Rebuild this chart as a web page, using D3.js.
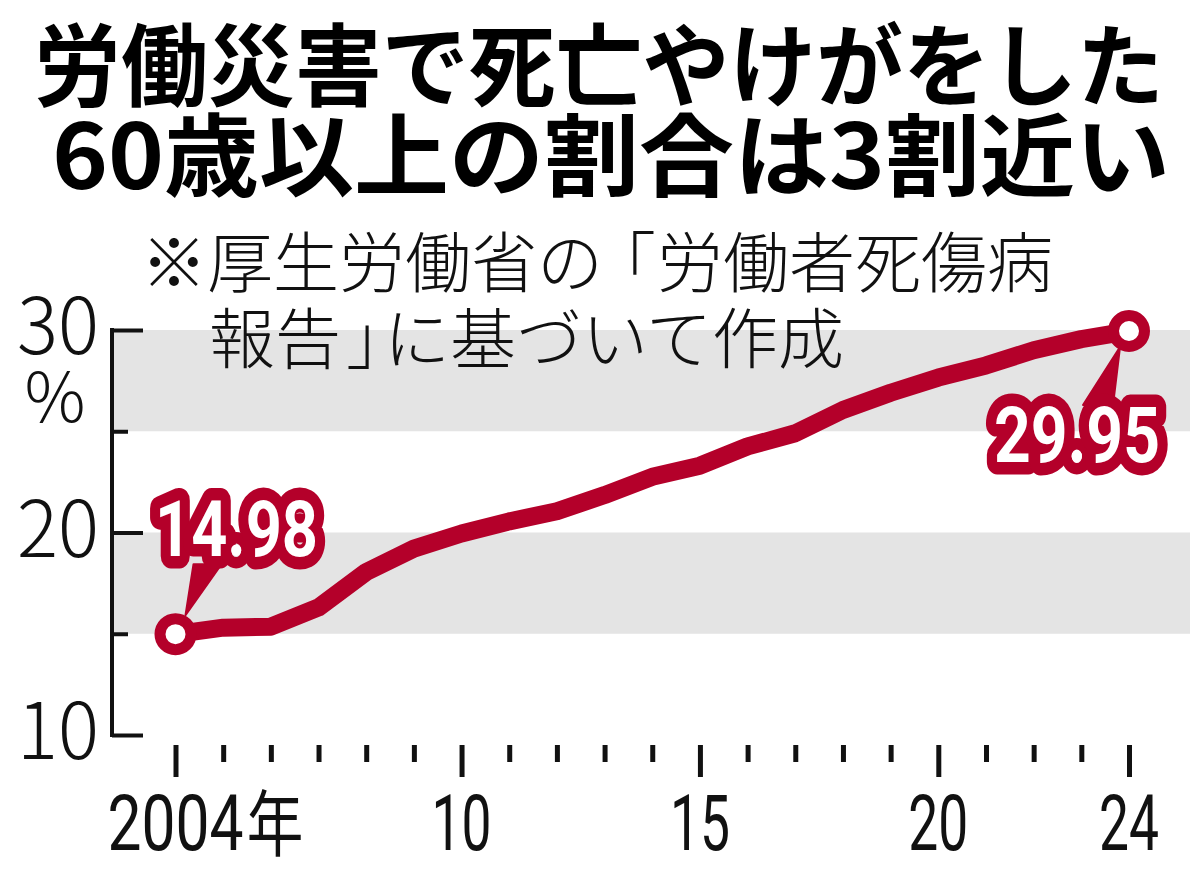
<!DOCTYPE html>
<html lang="ja"><head><meta charset="utf-8">
<script src="https://cdn.jsdelivr.net/npm/d3@7"></script>
<style>body{margin:0;background:#fff}svg{display:block}</style>
</head><body>
<script>
// ---- data ----
const years = [2004,2005,2006,2007,2008,2009,2010,2011,2012,2013,2014,2015,2016,2017,2018,2019,2020,2021,2022,2023,2024];
const shares = [14.98,15.3,15.35,16.3,18.05,19.2,19.95,20.55,21.05,21.85,22.75,23.3,24.25,24.9,26.05,26.9,27.65,28.25,29.0,29.55,29.95];
const yTicks = [10,15,20,25,30];
const yMajorTicks = [10,20,30];
const yTickLabels = ["10","20","30"];
const xMajorYears = [2004,2010,2015,2020,2024];
const xTickLabels = ["2004年","10","15","20","24"];
const bandsFrom = [15,25];
const bandsTo = [20,30];
const titleLines = ["労働災害で死亡やけがをした","60歳以上の割合は3割近い"];
const noteLines = ["※厚生労働省の「労働者死傷病","報告」に基づいて作成"];
const unitLabel = "%";
const calloutYears = [2004,2024];
const calloutTexts = ["14.98","29.95"];

// ---- drawing ----
const W = 1200, H = 874;
const RED = "#b4002a";
const svg = d3.select("body").append("svg").attr("width", W).attr("height", H).attr("lang","ja");
const x = d3.scaleLinear().domain([2004, 2024]).range([175.5, 1129]);
const y = d3.scaleLinear().domain([10, 30]).range([735, 330]);
const jp = "'Noto Sans CJK JP', 'Noto Sans', sans-serif";
const cond = "Roboto, 'Liberation Sans', sans-serif";

// titles
svg.selectAll("text.title").data(titleLines).join("text")
  .attr("class","title")
  .attr("x", (d,i) => i === 0 ? 34 : 52)
  .attr("y", (d,i) => 99 + i*90)
  .attr("textLength", (d,i) => i === 0 ? 1130 : 1118)
  .attr("lengthAdjust","spacingAndGlyphs")
  .style("font-family", jp).style("font-weight", 700).style("font-size","90px")
  .attr("fill","#000").text(d => d);

// bands
svg.selectAll("rect.band").data(bandsFrom).join("rect")
  .attr("class","band")
  .attr("x", 114).attr("width", 1190 - 114)
  .attr("y", (d,i) => y(bandsTo[i]))
  .attr("height", (d,i) => y(d) - y(bandsTo[i]))
  .attr("fill","#e4e4e4");

// note: segments split at brackets; each segment placed by its ink left edge
const noteFontPx = 66;
const ctx = document.createElement("canvas").getContext("2d");
ctx.font = `300 ${noteFontPx}px 'Noto Sans CJK JP', 'Noto Sans', sans-serif`;
const inkLeftOffset = s => ctx.measureText(s).actualBoundingBoxLeft || 0;
const noteInkStarts = [[150, 633, 660], [212, 348, 393]];
svg.selectAll("text.note").data(noteLines).join("text")
  .attr("class","note")
  .attr("y", (d,i) => 287 + i*76)
  .style("font-family", jp).style("font-weight", 300).style("font-size", noteFontPx + "px")
  .attr("fill","#111")
  .each(function(d, i){
    const t = d3.select(this);
    const parts = d.split(/([「」])/).filter(s => s.length);
    parts.forEach((p, k) => {
      const inkX = noteInkStarts[i][k];
      t.append("tspan").attr("x", inkX + inkLeftOffset(p[0])).text(p);
    });
  });

// y axis
const yAxis = svg.append("g").attr("transform","translate(112,0)")
  .call(d3.axisRight(y).tickValues(yTicks).tickSizeInner(31).tickSizeOuter(0).tickFormat(""));
yAxis.select(".domain").attr("stroke","#111").attr("stroke-width",4)
  .attr("d", `M0,${y(30)-2}V${y(10)+2}`);
yAxis.selectAll(".tick line").attr("stroke","#111").attr("stroke-width",4)
  .attr("x2", d => yMajorTicks.includes(d) ? 31 : 16);

svg.selectAll("text.ylab").data(yMajorTicks).join("text")
  .attr("class","ylab")
  .attr("x", 99).attr("y", d => y(d) + 24)
  .attr("text-anchor","end")
  .attr("textLength", 82).attr("lengthAdjust","spacingAndGlyphs")
  .style("font-family", jp).style("font-weight",300).style("font-size","78px")
  .attr("fill","#111").text((d,i) => yTickLabels[i]);
svg.append("text").attr("x", 55).attr("y", y(30) + 92)
  .attr("text-anchor","middle")
  .style("font-family", jp).style("font-weight",300).style("font-size","68px")
  .attr("fill","#111").text(unitLabel);

// x axis ticks
const xAxis = svg.append("g").attr("transform","translate(0,745)")
  .call(d3.axisBottom(x).tickValues(years).tickSize(32).tickFormat(""));
xAxis.select(".domain").remove();
xAxis.selectAll(".tick line").attr("stroke","#111").attr("stroke-width",5)
  .attr("y2", d => xMajorYears.includes(d) ? 32 : 17);

// x labels (condensed)
const xl = svg.selectAll("g.xlab").data(xMajorYears).join("g").attr("class","xlab");
const xt = xl.append("text")
  .style("font-family", cond).style("font-size","77px").attr("fill","#111");
xt.each(function(d,i){
  const el = d3.select(this);
  const lab = xTickLabels[i];
  const digits = lab.replace("年","");
  el.text(digits);
  const wDigits = this.getComputedTextLength();
  const sx = (digits.length === 4 ? 136 : 60) / wDigits;
  el.text(null);
  el.append("tspan").text(digits);
  if (lab !== digits) {
    el.append("tspan").attr("dx", 4).style("font-family", jp).style("font-size","72px").text("年");
  }
  d3.select(this.parentNode).attr("transform", `translate(${x(d) - (wDigits*sx)/2},850) scale(${sx},1)`);
});

// line
const pts = years.map((yr,i) => [x(yr), y(shares[i])]);
svg.append("path").datum(pts)
  .attr("d", d3.line().curve(d3.curveLinear))
  .attr("fill","none").attr("stroke",RED).attr("stroke-width",18)
  .attr("stroke-linejoin","round").attr("stroke-linecap","round");

// callouts
calloutYears.forEach((yr, k) => {
  const v = shares[years.indexOf(yr)];
  const cx = x(yr), cy = y(v);
  const first = k === 0;
  const tip = first ? [cx+10, cy-19] : [cx-9, cy+16];
  const b1 = first ? [cx+18, cy-70] : [cx-46, cy+74];
  const b2 = first ? [cx+46, cy-70] : [cx-16, cy+74];
  svg.append("polygon").attr("points", [tip,b1,b2].map(p=>p.join(",")).join(" "))
    .attr("fill",RED).attr("stroke",RED).attr("stroke-width",2).attr("stroke-linejoin","round");
  const tx = first ? cx + 61 : cx - 52;
  const ty = first ? cy - 78 : cy + 131;
  svg.append("text").attr("x", tx).attr("y", ty)
    .attr("text-anchor","middle")
    .attr("textLength", first ? 163 : 166).attr("lengthAdjust","spacingAndGlyphs")
    .style("font-family", cond).style("font-weight",700).style("font-size","78px")
    .attr("fill","#fff").attr("stroke",RED).attr("stroke-width",25)
    .attr("stroke-linejoin","round").style("paint-order","stroke")
    .text(calloutTexts[k]);
  svg.append("circle").attr("cx",cx).attr("cy",cy).attr("r",15.5)
    .attr("fill","#fff").attr("stroke",RED).attr("stroke-width",11);
});
</script>
</body></html>
